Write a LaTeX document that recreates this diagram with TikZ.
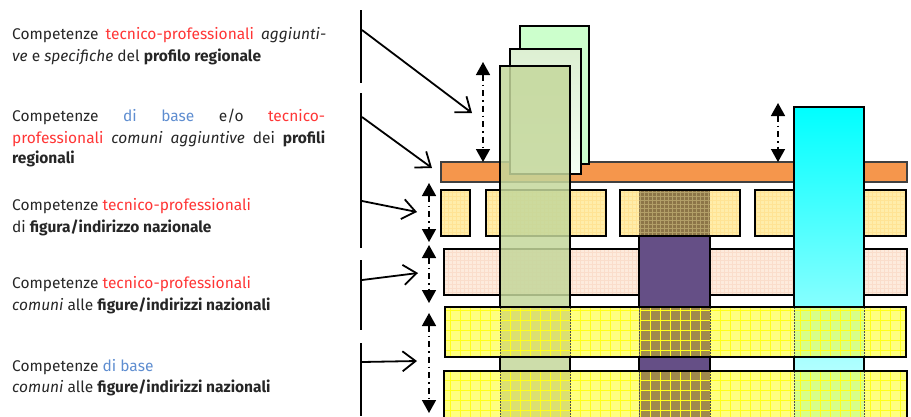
\documentclass[tikz,border=0pt]{standalone}
\usepackage{fontspec}
\setmainfont{Fira Sans}
\usetikzlibrary{arrows.meta}
\definecolor{txt}{HTML}{262626}
\definecolor{tred}{HTML}{FF3535}
\definecolor{tblue}{HTML}{5E8DD0}
\definecolor{orangebar}{HTML}{F5964C}
\definecolor{rowone}{HTML}{FFEDAA}
\definecolor{rowonegrid}{HTML}{FFE394}
\definecolor{rowtwo}{HTML}{FDEBDD}
\definecolor{rowtwogrid}{HTML}{FADDCB}
\definecolor{rowyel}{HTML}{FFFF80}
\definecolor{gridyel}{HTML}{FFFF1A}
\definecolor{greenback}{HTML}{CCFFCC}
\definecolor{greenmidtop}{HTML}{DDEFD2}
\definecolor{greenmidbot}{HTML}{F4FFF4}
\definecolor{greenfront}{HTML}{C4D79B}
\definecolor{purplecol}{HTML}{654F86}
\definecolor{purplerowone}{HTML}{8C7548}
\definecolor{cyantop}{HTML}{00FFFF}
\definecolor{cyanbot}{HTML}{D0FFFF}
\definecolor{ovgreen}{HTML}{DCE070}
\definecolor{ovpurple}{HTML}{A08A4C}
\definecolor{ovcyan}{HTML}{D8FF88}

\tikzset{
 lbl/.style={anchor=base west, inner sep=0pt, font=\fontsize{15.5}{19}\selectfont, text=txt},
 boxline/.style={draw=black, line width=1.8pt},
 pointer/.style={-{Straight Barb[length=13pt,width=20pt,line width=1.8pt]}, line width=1.8pt},
 span/.style={{Triangle[length=13pt,width=14pt]}-{Triangle[length=13pt,width=14pt]}, line width=1.5pt, dash pattern=on 6pt off 4pt on 1.5pt off 4pt},
 bracket/.style={line width=2pt},
 yelgrid/.style={draw=gridyel, line width=0.7pt},
 coledge/.style={draw=black!70, line width=1pt, dash pattern=on 2pt off 1pt},
}

\newcommand\yelrow[4]{%
 \fill[rowyel] (#1,#2) rectangle (#3,#4);
 \fill[ovgreen] (500,#2) rectangle (570,#4);
 \fill[ovpurple] (639,#2) rectangle (710,#4);
 \fill[ovcyan] (794,#2) rectangle (864,#4);
 \begin{scope}\clip (#1,#2) rectangle (#3,#4);
 \draw[yelgrid, step=10pt] (#1,#2) grid (#3,#4);
 \end{scope}
 \foreach \xx in {500,570,639,710,794,864} \draw[coledge] (\xx,#2) -- (\xx,#4);
 \draw[boxline] (#1,#2) rectangle (#3,#4);
}
\newcommand\gridbox[5]{%
 \fill[#5] (#1,#2) rectangle (#3,#4);
 \begin{scope}\clip (#1,#2) rectangle (#3,#4);
 \draw[#5grid, line width=0.4pt, step=4pt] (#1,#2) grid (#3,#4);
 \end{scope}
}

\begin{document}
\begin{tikzpicture}[x=1pt,y=-1pt]
\useasboundingbox (0,0) rectangle (911,416);

% ---------- texts ----------
\node[lbl] (t1a) at (12,39) {\makebox[314pt][s]{Competenze \textcolor{tred}{tecnico-professionali} \textit{aggiunti-}}};
\node[lbl] (t1b) at (12,61) {\textit{ve} e \textit{specifiche} del \textbf{profilo regionale}};
\node[lbl] (t2a) at (12,121) {\makebox[313pt][s]{Competenze \textcolor{tblue}{di base} e/o \textcolor{tred}{tecnico-}}};
\node[lbl] (t2b) at (12,143) {\makebox[313pt][s]{\textcolor{tred}{professionali} \textit{comuni aggiuntive} dei \textbf{profili}}};
\node[lbl] (t2c) at (12,163) {\textbf{regionali}};
\node[lbl] (t3a) at (12,210) {Competenze \textcolor{tred}{tecnico-professionali}};
\node[lbl] (t3b) at (12,232) {di \textbf{figura/indirizzo nazionale}};
\node[lbl] (t4a) at (12,288) {Competenze \textcolor{tred}{tecnico-professionali}};
\node[lbl] (t4b) at (12,310) {\textit{comuni} alle \textbf{figure/indirizzi nazionali}};
\node[lbl] (t5a) at (12,371) {Competenze \textcolor{tblue}{di base}};
\node[lbl] (t5b) at (12,392) {\textit{comuni} alle \textbf{figure/indirizzi nazionali}};

% ---------- row 2 (peach) ----------
\gridbox{444}{249}{907}{295}{rowtwo}
\draw[boxline] (444,249) rectangle (907,295);

% ---------- purple column ----------
\fill[purplecol] (639,190) rectangle (710,420);
\draw[black, line width=1.2pt] (639,190) rectangle (710,420);

% ---------- row 1 boxes ----------
\foreach \xa/\xb in {441/470,486/606,620/740,755/906}{
 \gridbox{\xa}{190}{\xb}{236}{rowone}
}
\fill[purplerowone] (639,190) rectangle (710,236);
\begin{scope}\clip (639,190) rectangle (710,236);
 \draw[draw=rowonegrid!70!black, line width=0.4pt, step=4pt] (639,190) grid (710,236);
\end{scope}
\foreach \xa/\xb in {441/470,486/606,620/740,755/906}{
 \draw[boxline] (\xa,190) rectangle (\xb,236);
}

% ---------- orange bar ----------
\fill[orangebar] (441,162) rectangle (907,182);
\draw[black!75, line width=1.2pt] (441,162) rectangle (907,182);

% ---------- green columns ----------
\fill[greenback] (520,26) rectangle (589,164);
\draw[boxline] (520,26) rectangle (589,164);
\shade[top color=greenmidtop, bottom color=greenmidbot] (510,49) rectangle (581,174);
\draw[boxline] (510,49) rectangle (581,174);
\fill[greenfront, fill opacity=0.85] (500,66) rectangle (570,420);
\draw[boxline] (500,66) rectangle (570,420);

% ---------- cyan column ----------
\shade[top color=cyantop, bottom color=cyanbot] (794,107) rectangle (864,416);
\draw[boxline] (794,107) rectangle (864,420);

% ---------- rows 3 and 4 (yellow) ----------
\yelrow{445}{307}{906}{357}
\yelrow{444}{371}{907}{420}

% ---------- left bracket lines ----------
\coordinate (b1t) at (361,10);  \coordinate (b1b) at (361,83);
\coordinate (b2t) at (361,93);  \coordinate (b2b) at (361,248);
\coordinate (b3t) at (361,260); \coordinate (b3b) at (361,330);
\coordinate (b4t) at (361,343); \coordinate (b4b) at (361,416);
\draw[bracket] (b1t) -- (b1b);
\draw[bracket] (b2t) -- (b2b);
\draw[bracket] (b3t) -- (b3b);
\draw[bracket] (b4t) -- (b4b);

% ---------- pointers ----------
\coordinate (p1s) at (362,30);  \coordinate (p1e) at (472,113);
\coordinate (p2s) at (362,117); \coordinate (p2e) at (432,168);
\coordinate (p3s) at (362,201); \coordinate (p3e) at (417,212);
\coordinate (p4s) at (362,280); \coordinate (p4e) at (418,273);
\coordinate (p5s) at (362,362); \coordinate (p5e) at (417,361);
\draw[pointer] (p1s) -- (p1e);
\draw[pointer] (p2s) -- (p2e);
\draw[pointer] (p3s) -- (p3e);
\draw[pointer] (p4s) -- (p4e);
\draw[pointer] (p5s) -- (p5e);

% ---------- span arrows ----------
\coordinate (sAt) at (483,62);  \coordinate (sAb) at (483,162);
\coordinate (sBt) at (778,103); \coordinate (sBb) at (778,162);
\coordinate (sCt) at (429,183); \coordinate (sCb) at (429,242);
\coordinate (sDt) at (429,245); \coordinate (sDb) at (429,303);
\coordinate (sEt) at (429,313); \coordinate (sEb) at (429,413);
\draw[span] (sAt) -- (sAb);
\draw[span] (sBt) -- (sBb);
\draw[span] (sCt) -- (sCb);
\draw[span] (sDt) -- (sDb);
\draw[span] (sEt) -- (sEb);
\end{tikzpicture}
\end{document}
